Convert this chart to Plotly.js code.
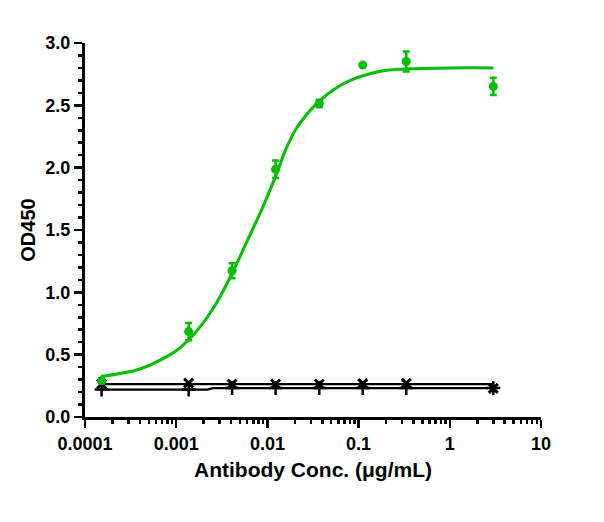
<!DOCTYPE html>
<html>
<head>
<meta charset="utf-8">
<script src="https://cdn.plot.ly/plotly-3.0.1.min.js"></script>
<style>html,body{margin:0;padding:0;background:#fff;}#chart{width:604px;height:522px;}</style>
</head>
<body>
<div id="chart"></div>
<script>
// Concentrations (µg/mL)
var conc = [0.000152, 0.00137, 0.0041, 0.0123, 0.037, 0.111, 0.333, 3.0];
// Green antibody series: mean OD450 and SD
var greenOD = [0.29, 0.685, 1.173, 1.987, 2.515, 2.823, 2.852, 2.652];
var greenSD = [0.02, 0.07, 0.06, 0.07, 0.03, 0.0, 0.08, 0.07];
// Green fitted curve
var greenFitX = [0.00015, 0.0004, 0.00086, 0.0011, 0.00153, 0.00254, 0.00387, 0.0059, 0.00898, 0.0126, 0.0162, 0.021, 0.028, 0.036, 0.053, 0.081, 0.187, 0.336, 1.0, 3.0];
var greenFitY = [0.325, 0.385, 0.50, 0.555, 0.655, 0.87, 1.115, 1.40, 1.69, 1.95, 2.16, 2.32, 2.44, 2.525, 2.625, 2.70, 2.777, 2.792, 2.80, 2.80];
// Control series (black)
var ctrlXOD = [0.265, 0.272, 0.265, 0.265, 0.265, 0.268, 0.27, 0.23];
var ctrlPlusOD = [0.22, 0.22, 0.232, 0.232, 0.232, 0.232, 0.232, 0.232];
var ctrlXFitX = [0.00015, 3.0];
var ctrlXFitY = [0.263, 0.263];
var ctrlPlusFitX = [0.00015, 0.0022, 0.0025, 3.0];
var ctrlPlusFitY = [0.22, 0.22, 0.232, 0.232];
// Axis ticks
var xTickVals = [0.0001, 0.001, 0.01, 0.1, 1, 10];
var xTickText = ['0.0001', '0.001', '0.01', '0.1', '1', '10'];
var yTickVals = [0, 0.5, 1, 1.5, 2, 2.5, 3];
var yTickText = ['0.0', '0.5', '1.0', '1.5', '2.0', '2.5', '3.0'];

var green = 'rgb(0,190,0)';
var traces = [
  {x: ctrlPlusFitX, y: ctrlPlusFitY, mode: 'lines', line: {color: '#000', width: 2.2}, hoverinfo: 'skip'},
  {x: ctrlXFitX, y: ctrlXFitY, mode: 'lines', line: {color: '#000', width: 2.2}, hoverinfo: 'skip'},
  {x: conc, y: ctrlPlusOD, mode: 'markers', marker: {symbol: 'cross-thin', size: 10, line: {color: '#000', width: 2.5}}},
  {x: conc, y: ctrlXOD, mode: 'markers', marker: {symbol: 'x-thin', size: 9, line: {color: '#000', width: 3}}},
  {x: greenFitX, y: greenFitY, mode: 'lines', line: {color: green, width: 3, shape: 'spline', smoothing: 1}},
  {x: conc, y: greenOD, mode: 'markers', marker: {symbol: 'circle', size: 9, color: green},
   error_y: {type: 'data', array: greenSD, visible: true, color: green, thickness: 2.5, width: 3.5}}
];

var fontFam = 'Liberation Sans, Arial, sans-serif';
var layout = {
  width: 604, height: 522,
  margin: {l: 85, r: 63, t: 43, b: 105},
  showlegend: false,
  paper_bgcolor: '#fff', plot_bgcolor: '#fff',
  font: {family: fontFam, color: '#000'},
  xaxis: {
    type: 'log', range: [-4, 1],
    tickmode: 'array', tickvals: xTickVals, ticktext: xTickText,
    ticks: 'outside', ticklen: 8, tickwidth: 2.5, tickcolor: '#000',
    minor: {dtick: 'D1', ticks: 'outside', ticklen: 4, tickwidth: 2.5, tickcolor: '#000'},
    showline: true, linecolor: '#000', linewidth: 3,
    showgrid: false, zeroline: false,
    tickfont: {family: fontFam, size: 18, color: '#000', weight: 'bold'},
    title: {text: '<b>Antibody Conc. (μg/mL)</b>', font: {family: fontFam, size: 21, color: '#000'}, standoff: 10}
  },
  yaxis: {
    range: [0, 3],
    tickmode: 'array', tickvals: yTickVals, ticktext: yTickText,
    ticks: 'outside', ticklen: 8, tickwidth: 2.5, tickcolor: '#000',
    minor: {dtick: 0.1, ticks: 'outside', ticklen: 4, tickwidth: 2.5, tickcolor: '#000'},
    showline: true, linecolor: '#000', linewidth: 3,
    showgrid: false, zeroline: false,
    tickfont: {family: fontFam, size: 18, color: '#000', weight: 'bold'},
    title: {text: '<b>OD450</b>', font: {family: fontFam, size: 20, color: '#000'}, standoff: 5}
  }
};
Plotly.newPlot('chart', traces, layout, {displayModeBar: false, staticPlot: true});
</script>
</body>
</html>
